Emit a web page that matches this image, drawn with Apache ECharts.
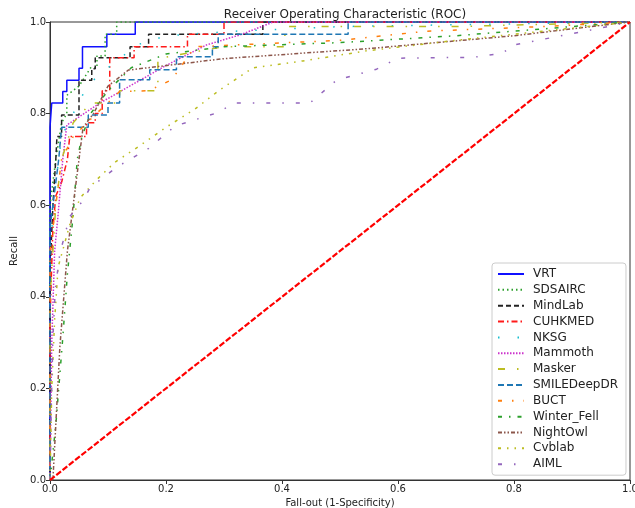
<!DOCTYPE html>
<html>
<head>
<meta charset="utf-8">
<script src="https://cdn.jsdelivr.net/npm/echarts@6/dist/echarts.min.js"></script>
<style>html,body{margin:0;padding:0;background:#fff;overflow:hidden}#c{position:absolute;left:0;top:0;width:635px;height:508px}</style>
</head>
<body>
<div id="c"></div>
<script>
const xTicks = [0, 0.2, 0.4, 0.6, 0.8, 1.0];
const yTicks = [0, 0.2, 0.4, 0.6, 0.8, 1.0];
const seriesNames = ['VRT','SDSAIRC','MindLab','CUHKMED','NKSG','Mammoth','Masker','SMILEDeepDR','BUCT','Winter_Fell','NightOwl','Cvblab','AIML'];

const VRT = [[0,0],[0,0.77],[0.003,0.77],[0.003,0.823],[0.022,0.823],[0.022,0.848],[0.029,0.848],[0.029,0.873],[0.05,0.873],[0.05,0.899],[0.056,0.899],[0.056,0.946],[0.098,0.946],[0.098,0.973],[0.147,0.973],[0.147,1],[1,1]];
const SDSAIRC = [[0,0],[0,0.6],[0.01,0.7],[0.02,0.78],[0.029,0.8],[0.029,0.84],[0.05,0.86],[0.06,0.88],[0.07,0.9],[0.081,0.9],[0.081,0.926],[0.095,0.926],[0.095,0.973],[0.115,0.973],[0.115,1],[1,1]];
const MindLab = [[0,0],[0,0.45],[0.005,0.6],[0.01,0.7],[0.012,0.75],[0.02,0.75],[0.02,0.797],[0.05,0.797],[0.05,0.873],[0.072,0.873],[0.072,0.898],[0.078,0.898],[0.078,0.922],[0.138,0.922],[0.138,0.946],[0.17,0.946],[0.17,0.973],[0.367,0.973],[0.367,1],[1,1]];
const CUHKMED = [[0,0],[0,0.35],[0.005,0.55],[0.01,0.62],[0.02,0.65],[0.03,0.7],[0.034,0.75],[0.063,0.75],[0.063,0.78],[0.078,0.78],[0.078,0.8],[0.09,0.8],[0.09,0.85],[0.103,0.85],[0.103,0.922],[0.145,0.922],[0.145,0.946],[0.237,0.946],[0.237,0.973],[0.3,0.973],[0.3,1],[1,1]];
const NKSG = [[0,0],[0,0.5],[0.01,0.65],[0.02,0.75],[0.04,0.8],[0.06,0.85],[0.08,0.88],[0.1,0.9],[0.12,0.92],[0.15,0.95],[0.2,0.97],[0.32,0.98],[0.5,0.99],[1,1]];
const Mammoth = [[0,0],[0.003,0.3],[0.008,0.5],[0.014,0.58],[0.022,0.7],[0.029,0.775],[0.086,0.823],[0.2,0.905],[0.27,0.95],[0.328,0.972],[0.385,1],[1,1]];
const Masker = [[0,0],[0,0.4],[0.01,0.6],[0.02,0.7],[0.04,0.78],[0.07,0.823],[0.12,0.823],[0.12,0.85],[0.186,0.85],[0.186,0.92],[0.25,0.935],[0.3,0.946],[0.405,0.946],[0.405,0.99],[0.7,0.99],[1,1]];
const SMILEDeepDR = [[0,0],[0,0.55],[0.005,0.6],[0.01,0.65],[0.015,0.7],[0.02,0.77],[0.066,0.77],[0.066,0.797],[0.1,0.797],[0.1,0.823],[0.12,0.823],[0.12,0.874],[0.172,0.874],[0.172,0.896],[0.218,0.896],[0.218,0.924],[0.28,0.924],[0.28,0.946],[0.29,0.946],[0.29,0.973],[0.514,0.973],[0.514,1],[1,1]];
const BUCT = [[0,0],[0,0.5],[0.01,0.6],[0.02,0.7],[0.04,0.75],[0.08,0.8],[0.12,0.848],[0.17,0.85],[0.21,0.874],[0.25,0.946],[0.5,0.96],[0.65,0.98],[0.85,0.99],[1,1]];
const Winter_Fell = [[0,0],[0.01,0.12],[0.022,0.31],[0.03,0.45],[0.04,0.58],[0.047,0.7],[0.055,0.75],[0.07,0.8],[0.1,0.85],[0.14,0.9],[0.2,0.93],[0.3,0.946],[0.5,0.955],[0.7,0.97],[0.9,0.99],[1,1]];
const NightOwl = [[0,0],[0.005,0],[0.017,0.29],[0.03,0.5],[0.04,0.6],[0.057,0.77],[0.075,0.8],[0.1,0.86],[0.135,0.895],[0.3,0.92],[0.55,0.942],[0.8,0.97],[1,1]];
const Cvblab = [[0,0],[0.003,0.2],[0.008,0.35],[0.014,0.465],[0.026,0.52],[0.034,0.557],[0.052,0.616],[0.08,0.655],[0.112,0.694],[0.155,0.73],[0.2,0.77],[0.25,0.81],[0.293,0.852],[0.35,0.9],[0.436,0.915],[0.546,0.937],[0.7,0.96],[0.85,0.98],[1,1]];
const AIML = [[0,0],[0.002,0.15],[0.005,0.31],[0.009,0.415],[0.017,0.495],[0.034,0.575],[0.057,0.61],[0.069,0.638],[0.115,0.683],[0.17,0.724],[0.216,0.773],[0.284,0.8],[0.32,0.823],[0.448,0.823],[0.494,0.873],[0.563,0.897],[0.6,0.921],[0.73,0.923],[0.78,0.932],[0.8,0.95],[0.89,0.972],[0.95,0.987],[1,1]];
const chance = [[0,0],[1,1]];

const seriesData = [VRT,SDSAIRC,MindLab,CUHKMED,NKSG,Mammoth,Masker,SMILEDeepDR,BUCT,Winter_Fell,NightOwl,Cvblab,AIML];
const styles = [
  {color:'#1010ff', type:'solid'},
  {color:'#2ca02c', type:[1.5,3]},
  {color:'#222222', type:[5,3]},
  {color:'#ff1a1a', type:[6,3,1.5,3]},
  {color:'#17becf', type:[1.5,18]},
  {color:'#cc33cc', type:[1.5,1.5]},
  {color:'#bcbd22', type:[7,12,1.5,12]},
  {color:'#1f77b4', type:[6,3]},
  {color:'#ff7f0e', type:[4,10,1.5,10]},
  {color:'#2ca02c', type:[4,7,1.5,7]},
  {color:'#8c564b', type:[4,2,1.5,2,1.5,2]},
  {color:'#bcbd22', type:[3,6,1.5,6,1.5,6]},
  {color:'#9467bd', type:[4,12,1.5,12]}
];

const series = seriesNames.map((n,i)=>({
  name:n, type:'line', data:seriesData[i], symbol:'none', showSymbol:false,
  lineStyle:{color:styles[i].color, type:styles[i].type, width:1.5},
  itemStyle:{color:styles[i].color}, z:2+i, animation:false
}));
series.push({
  name:'chance', type:'line', data:chance, symbol:'none',
  lineStyle:{color:'#ff0000', type:[6,2], width:2.2}, z:30, animation:false
});

const chart = echarts.init(document.getElementById('c'), null, {renderer:'canvas', width:635, height:508});
const F = 'DejaVu Sans';
chart.setOption({
  backgroundColor:'#ffffff',
  animation:false,
  title:{text:'Receiver Operating Characteristic (ROC)', left:340, textAlign:'center', top:4,
    textStyle:{fontFamily:F, fontSize:12, fontWeight:'normal', color:'#222'}},
  grid:{left:50, right:5, top:22, bottom:28, outerBoundsMode:'none', containLabel:false, show:true, borderColor:'#333', borderWidth:1, backgroundColor:'transparent'},
  xAxis:{type:'value', min:0, max:1, interval:0.2, name:'Fall-out (1-Specificity)', nameLocation:'middle', nameGap:11,
    nameTextStyle:{fontFamily:F, fontSize:10, color:'#222'},
    axisLine:{show:true, lineStyle:{color:'#333'}}, axisTick:{show:true, length:4, lineStyle:{color:'#333'}},
    axisLabel:{fontFamily:F, fontSize:10, color:'#222', margin:4, formatter:v=>v.toFixed(1)}, splitLine:{show:false}},
  yAxis:{type:'value', min:0, max:1, interval:0.2, name:'Recall', nameLocation:'middle', nameGap:28, nameRotate:90,
    nameTextStyle:{fontFamily:F, fontSize:10, color:'#222'},
    axisLine:{show:true, lineStyle:{color:'#333'}}, axisTick:{show:true, length:4, lineStyle:{color:'#333'}},
    axisLabel:{fontFamily:F, fontSize:10, color:'#222', margin:4, formatter:v=>v.toFixed(1)}, splitLine:{show:false}},
  legend:{show:true, data:seriesNames, orient:'vertical', left:492, top:263, itemWidth:26, itemHeight:12, itemGap:3.85,
    padding:[5,8,5,5], borderColor:'#cccccc', borderWidth:1, borderRadius:3, backgroundColor:'rgba(255,255,255,0.85)',
    itemStyle:{opacity:0},
    textStyle:{fontFamily:F, fontSize:12, color:'#222', padding:[0,0,0,4]}},
  series:series
});
</script>
</body>
</html>
